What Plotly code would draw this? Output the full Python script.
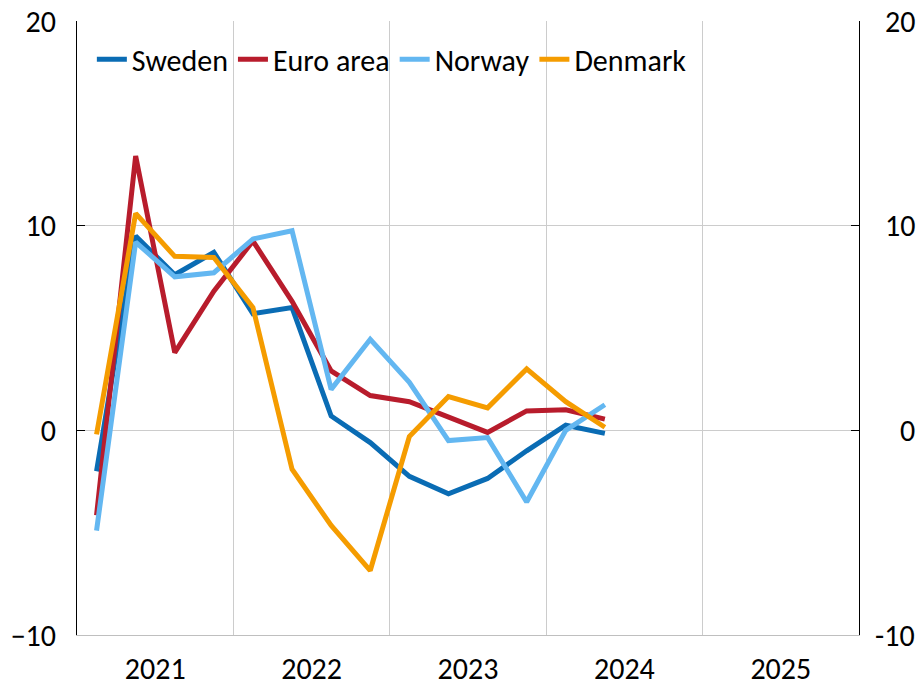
import plotly.graph_objects as go

quarters = [2021.125 + 0.25 * i for i in range(14)]
sweden = [-2.0, 9.5, 7.6, 8.7, 5.7, 6.0, 0.7, -0.6, -2.25, -3.1, -2.35, -1.0, 0.25, -0.15]
euro_area = [-4.15, 13.4, 3.8, 6.8, 9.25, 6.3, 2.9, 1.7, 1.4, 0.65, -0.1, 0.95, 1.0, 0.55]
norway = [-4.9, 9.2, 7.5, 7.7, 9.35, 9.75, 2.0, 4.45, 2.35, -0.5, -0.35, -3.5, 0.0, 1.25]
denmark = [-0.2, 10.6, 8.5, 8.45, 6.0, -1.9, -4.65, -6.85, -0.3, 1.65, 1.1, 3.0, 1.4, 0.15]

year_labels = ["2021", "2022", "2023", "2024", "2025"]
year_pos = [2021.5, 2022.5, 2023.5, 2024.5, 2025.5]
year_bounds = [2022, 2023, 2024, 2025]
y_ticks = [-10, 0, 10, 20]

FONT = "Carlito, 'Liberation Sans', Arial, sans-serif"
FS = 30

series = [
    ("Sweden", sweden, "#0a6cb4"),
    ("Euro area", euro_area, "#b81c2c"),
    ("Norway", norway, "#63b7f1"),
    ("Denmark", denmark, "#f59c00"),
]

fig = go.Figure()
for name, vals, col in series:
    fig.add_trace(go.Scatter(x=quarters, y=vals, name=name, mode="lines",
                             line=dict(color=col, width=5)))

# invisible trace to activate right axis
fig.add_trace(go.Scatter(x=[2021.5], y=[0], yaxis="y2", mode="lines",
                         showlegend=False, hoverinfo="skip",
                         line=dict(color="rgba(0,0,0,0)")))

fig.update_layout(
    width=923, height=686,
    margin=dict(l=77, r=64, t=21, b=51),
    paper_bgcolor="white", plot_bgcolor="white",
    font=dict(family=FONT, size=FS, color="black"),
    showlegend=True,
    legend=dict(orientation="h", x=0.019, y=0.98, xanchor="left", yanchor="top",
                bgcolor="rgba(0,0,0,0)", font=dict(size=FS),
                itemwidth=30, tracegroupgap=0),
    xaxis=dict(range=[2021, 2026], tickmode="array", tickvals=year_pos,
               ticktext=year_labels, ticks="", showgrid=False,
               showline=True, linecolor="#bfbfbf", linewidth=1,
               ticklabelstandoff=7, zeroline=False, automargin=False,
               minor=dict(tickmode="array", tickvals=year_bounds, showgrid=True,
                          gridcolor="#cccccc", gridwidth=1, ticks="")),
    yaxis=dict(range=[-10, 20], tickmode="array", tickvals=y_ticks,
               showgrid=True, gridcolor="#cccccc", gridwidth=1,
               showline=True, linecolor="black", linewidth=1,
               ticks="inside", ticklen=8, tickcolor="black",
               zeroline=False, ticklabelstandoff=14, automargin=False),
    yaxis2=dict(range=[-10, 20], overlaying="y", side="right",
                tickmode="array", tickvals=y_ticks, showticklabels=False,
                showgrid=False, showline=True, linecolor="black", linewidth=1,
                ticks="inside", ticklen=8, tickcolor="black", zeroline=False,
                automargin=False),
)

for v in y_ticks:
    fig.add_annotation(x=1, xref="paper", y=v, yref="y", text=str(v),
                       showarrow=False, xanchor="right", xshift=58,
                       font=dict(family=FONT, size=FS, color="black"))

fig.write_html("out.html",
               config={"displayModeBar": False},
               post_script="document.body.style.margin='0';"
                           "document.body.style.overflow='hidden';")
